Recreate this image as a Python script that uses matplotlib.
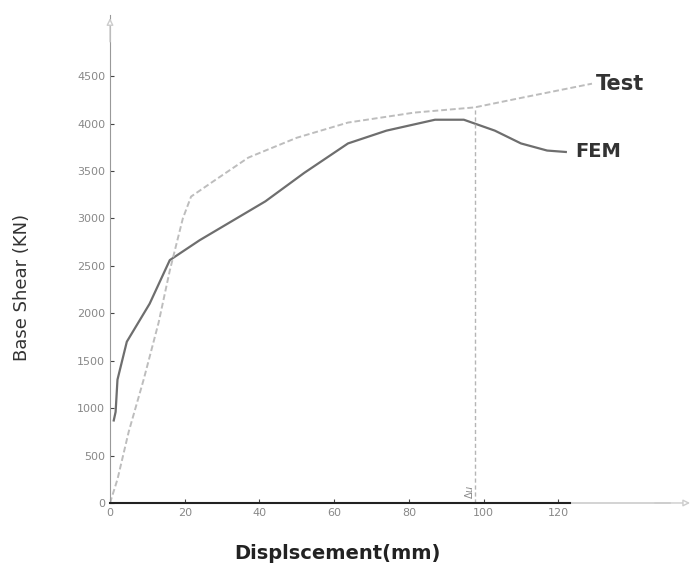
import numpy as np
import matplotlib.pyplot as plt

# Test curve (dashed, light gray)
test_x = [0, 2, 5, 9, 13, 16, 19.5, 21.7, 28, 37, 41.6, 50, 63.7, 81.4, 97.6, 110, 129]
test_y = [0, 250, 750, 1300, 1900, 2450, 3000, 3230, 3400, 3640, 3715, 3850, 4010, 4115, 4170, 4270, 4420]

# FEM curve (solid, darker gray)
fem_x = [1, 1.5, 2, 4.5, 10.6, 16, 24, 41.6, 52, 63.7, 74, 87, 94.7, 103, 110, 117, 122]
fem_y = [870, 960, 1300, 1700, 2100, 2560, 2770, 3180, 3480, 3790, 3925, 4040, 4040, 3925, 3790, 3715, 3700]

du_x = 97.6
du_y = 4170

xticks = [0, 20, 40, 60, 80, 100, 120]
yticks = [0, 500, 1000, 1500, 2000, 2500, 3000, 3500, 4000, 4500]

fig = plt.figure(figsize=(6.98, 5.67), dpi=100)
ax = fig.add_axes([0.1576, 0.1129, 0.835, 0.86])

ax.plot(fem_x, fem_y, '-', color='#6e6e6e', lw=1.6)
ax.plot(test_x, test_y, '--', color='#bdbdbd', lw=1.4, dashes=(3, 1.5))
ax.plot([du_x, du_x], [0, du_y], '--', color='#b5b5b5', lw=1.0, dashes=(3, 2))

ax.text(du_x - 1.5, 40, r'$\Delta u$', rotation=90, fontsize=7, color='#888888',
        ha='center', va='bottom')

ax.text(130, 4420, 'Test', fontsize=15, fontweight='bold', color='#333333', va='center')
ax.text(124.5, 3700, 'FEM', fontsize=14, fontweight='bold', color='#333333', va='center')

ax.set_xlim(0, 156)
ax.set_ylim(0, 5140)
ax.set_xticks(xticks)
ax.set_yticks(yticks)
ax.tick_params(direction='in', length=3, labelsize=8, colors='#888888')
ax.tick_params(axis='both', color='#444444')

for s in ['top', 'right']:
    ax.spines[s].set_visible(False)
ax.spines['left'].set_color('#999999')
ax.spines['bottom'].set_color('#222222')
ax.spines['bottom'].set_linewidth(1.5)
ax.spines['bottom'].set_bounds(0, 123)
ax.plot([123, 150], [0, 0], color='#cccccc', lw=1.2, clip_on=False)

# axis arrows
ax.annotate('', xy=(1.0, 0), xytext=(0.93, 0), xycoords='axes fraction',
            arrowprops=dict(arrowstyle='-|>', color='#cccccc', lw=1, fc='white'))
ax.annotate('', xy=(0, 1.0), xytext=(0, 0.94), xycoords='axes fraction',
            arrowprops=dict(arrowstyle='-|>', color='#cccccc', lw=1, fc='white'))

ax.set_xlabel('Displscement(mm)', fontsize=14, fontweight='bold', color='#222222')
ax.xaxis.set_label_coords(0.39, -0.085)
ax.set_ylabel('Base Shear (KN)', fontsize=13, color='#333333')
ax.yaxis.set_label_coords(-0.135, 0.443)

plt.savefig('out.png', dpi=100)
